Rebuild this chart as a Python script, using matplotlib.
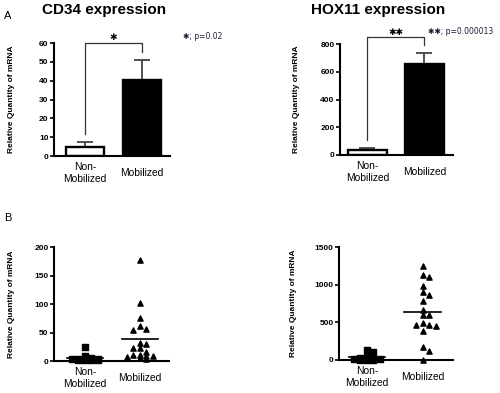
from matplotlib import pyplot as plt
import numpy as np

groups = ['Non-\nMobilized', 'Mobilized']

# panel A: bar means and upper error (SEM)
cd34_mean = [5, 40.5]
cd34_err = [2.5, 10.5]
hox11_mean = [35, 655]
hox11_err = [15, 80]

# panel B: individual samples
cd34_non = [24, 8, 6, 4, 3, 3, 2, 2, 1, 1]
cd34_mob = [178, 101, 76, 61, 57, 54, 32, 29, 23, 22, 16, 10, 10, 8, 8, 7, 6, 4]
hox11_non = [133, 106, 40, 30, 20, 15, 10, 5, 3, 2]
hox11_mob = [1244, 1125, 1103, 984, 904, 860, 781, 670, 596, 596, 485, 463,
             463, 454, 388, 176, 119, 0]

plt.rcParams['font.family'] = ['Liberation Sans', 'DejaVu Sans']

fig = plt.figure(figsize=(5, 3.93), dpi=100)


def setup(ax, ymax, step, xlim, label_x):
    ax.set_ylim(0, ymax)
    ax.set_xlim(*xlim)
    ax.set_yticks(np.arange(0, ymax + 1, step))
    ax.spines['top'].set_visible(False)
    ax.spines['right'].set_visible(False)
    ax.spines['left'].set_linewidth(1.5)
    ax.spines['bottom'].set_linewidth(1.5)
    ax.tick_params(axis='y', length=3, width=1.2, labelsize=6, pad=1)
    for t in ax.get_yticklabels():
        t.set_fontweight('bold')
    ax.set_xticks([0, 1])
    ax.set_xticklabels(groups, fontsize=7.4, linespacing=1.25)
    ax.tick_params(axis='x', length=0, pad=12)
    for t in ax.get_xticklabels():
        t.set_va('center')
        t.set_multialignment('center')
    ax.set_ylabel('Relative Quantity of mRNA', fontsize=6, fontweight='bold')
    ax.yaxis.set_label_coords(label_x, 0.5)


def bars(ax, mean, err, top, star, note, note_xy):
    ax.bar([0, 1], mean, width=0.67, color=['white', 'black'],
           edgecolor='black', linewidth=1.7, zorder=2)
    ax.errorbar([0, 1], mean, yerr=[[0, 0], err], fmt='none', ecolor='#444444',
                elinewidth=1.3, capsize=6, capthick=1.3, zorder=1)
    ymax = ax.get_ylim()[1]
    gap = 0.07 * ymax
    ax.plot([0, 0, 1, 1], [mean[0] + err[0] + gap, top, top, mean[1] + err[1] + gap],
            color='#333333', lw=0.9, clip_on=False)
    ax.text(0.5, top + 0.045 * ymax, star, ha='center', va='center', fontsize=6.5,
            family='DejaVu Sans', clip_on=False)
    ax.text(note_xy[0], note_xy[1], star + '; ' + note, transform=ax.transAxes,
            ha='left', va='center', fontsize=5.5, color='#1c1c38',
            family=['DejaVu Sans'])


def swarm(ax, vals, center, marker, dx=6.5, dy=4.5, ncol=2):
    # column packing in pixel space, limited to +-ncol columns
    placed = []
    order = np.argsort(vals)[::-1]
    offs_px = np.zeros(len(vals))
    ys = ax.transData.transform(np.column_stack([np.zeros(len(vals)), vals]))[:, 1]
    cands = [0]
    for k in range(1, ncol + 1):
        cands += [k * dx, -k * dx]
    for i in order:
        best, best_hits = None, None
        for o in cands:
            hits = sum(1 for qo, qy in placed
                       if abs(o - qo) < dx and abs(ys[i] - qy) < dy)
            if best_hits is None or hits < best_hits:
                best, best_hits = o, hits
            if hits == 0:
                break
        placed.append((best, ys[i]))
        offs_px[i] = best
    px0 = ax.transData.transform((center, 0))[0]
    xs = [ax.transData.inverted().transform((px0 + o, 0))[0] for o in offs_px]
    ax.scatter(xs, vals, marker=marker, s=14, color='black', zorder=3, clip_on=False)
    m = np.mean(vals)
    ax.plot([center - 0.33, center + 0.33], [m, m], color='black', lw=1.2, zorder=2)


# A left
ax1 = fig.add_axes([0.108, 0.603, 0.232, 0.2875])
setup(ax1, 60, 10, (-0.54, 1.49), -0.34)
bars(ax1, cd34_mean, cd34_err, 60, '\u2731', 'p=0.02', (1.11, 1.06))

# A right
ax2 = fig.add_axes([0.68, 0.6056, 0.226, 0.2824])
setup(ax2, 800, 200, (-0.48, 1.5), -0.355)
bars(ax2, hox11_mean, hox11_err, 850, '\u2731\u2731', 'p=0.000013', (0.78, 1.117))

# B left
ax3 = fig.add_axes([0.108, 0.0814, 0.23, 0.29])
setup(ax3, 200, 50, (-0.56, 1.53), -0.34)
swarm(ax3, cd34_non, 0, 's')
swarm(ax3, cd34_mob, 1, '^')

# B right
ax4 = fig.add_axes([0.678, 0.084, 0.228, 0.2875])
setup(ax4, 1500, 500, (-0.5, 1.54), -0.37)
swarm(ax4, hox11_non, 0, 's')
swarm(ax4, hox11_mob, 1, '^')

fig.text(104 / 500, 1 - 10 / 393, 'CD34 expression', ha='center', va='center',
         fontsize=11, fontweight='bold')
fig.text(378 / 500, 1 - 10 / 393, 'HOX11 expression', ha='center', va='center',
         fontsize=11, fontweight='bold')
fig.text(8 / 500, 1 - 16 / 393, 'A', ha='center', va='center', fontsize=8)
fig.text(8 / 500, 1 - 218 / 393, 'B', ha='center', va='center', fontsize=8)

fig.savefig('out.png', dpi=100)
